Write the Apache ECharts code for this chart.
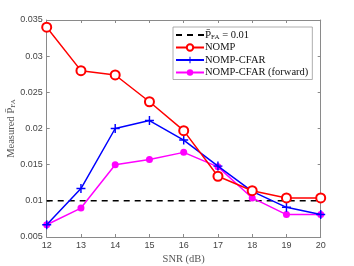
<!DOCTYPE html>
<html><head><meta charset="utf-8">
<script src="https://cdn.jsdelivr.net/npm/echarts@6/dist/echarts.min.js"></script>
<style>html,body{margin:0;padding:0;background:#fff}#c{width:354px;height:266px}</style>
</head><body><div id="c"></div>
<script>
const snr = [12, 13, 14, 15, 16, 17, 18, 19, 20];
const nomp = [0.0340, 0.0280, 0.0274, 0.0237, 0.0197, 0.0134, 0.0114, 0.0104, 0.0104];
const nompCfar = [0.0067, 0.0117, 0.0200, 0.0211, 0.0184, 0.0148, 0.0113, 0.0091, 0.0081];
const nompCfarFwd = [0.0067, 0.0090, 0.0150, 0.0157, 0.0167, 0.0147, 0.0104, 0.0081, 0.0081];
const threshold = 0.01;
const names = ['th', 'NOMP', 'NOMP-CFAR', 'NOMP-CFAR (forward)'];

const pair = (xs, ys) => xs.map((x, i) => [x, ys[i]]);
const serif = 'Liberation Serif';
const axisCol = '#8a8a8a';
const labCol = '#444';
const plus = 'path://M-0.8,-5H0.8V5H-0.8Z M-5,-0.8H5V0.8H-5Z';

const chart = echarts.init(document.getElementById('c'), null, {renderer: 'canvas'});
const xBase = {type: 'value', min: 12, max: 20, interval: 1,
  axisLine: {lineStyle: {color: axisCol, width: 1}},
  axisTick: {inside: true, length: 3, lineStyle: {color: axisCol}},
  splitLine: {show: false}};
const yBase = {type: 'value', min: 0.005, max: 0.035, interval: 0.005,
  axisLine: {show: true, lineStyle: {color: axisCol, width: 1}},
  axisTick: {show: true, inside: true, length: 3, lineStyle: {color: axisCol}},
  splitLine: {show: false}};
chart.setOption({
  animation: false,
  grid: {left: 46.7, right: 33.3, top: 20, bottom: 29, containLabel: false, outerBoundsMode: 'none'},
  xAxis: [
    Object.assign({}, xBase, {position: 'bottom',
      axisLabel: {color: labCol, fontSize: 9, fontFamily: 'Liberation Sans', margin: 4},
      name: 'SNR (dB)', nameLocation: 'middle', nameGap: 17, nameMoveOverlap: false,
      nameTextStyle: {fontFamily: serif, fontSize: 10.5, color: '#555'}}),
    Object.assign({}, xBase, {position: 'top', axisLabel: {show: false}})
  ],
  yAxis: [
    Object.assign({}, yBase, {position: 'left',
      axisLabel: {color: labCol, fontSize: 9, fontFamily: 'Liberation Sans', margin: 4,
        formatter: v => String(+v.toFixed(3))},
      name: 'Measured {p|P̄}{s|FA}', nameLocation: 'middle', nameGap: 30, nameMoveOverlap: false,
      nameTextStyle: {fontFamily: serif, fontSize: 10.5, color: '#555',
        rich: {p: {fontFamily: serif, fontSize: 11, color: '#555'},
               s: {fontFamily: serif, fontSize: 7, color: '#555', verticalAlign: 'bottom', padding: [4, 0, 0, 0]}}}}),
    Object.assign({}, yBase, {position: 'right', axisLabel: {show: false}})
  ],
  legend: {
    show: true, orient: 'vertical', left: 173, top: 27,
    data: [{name: 'th', itemStyle: {opacity: 0}}, 'NOMP', 'NOMP-CFAR', 'NOMP-CFAR (forward)'],
    itemWidth: 28, itemHeight: 8, itemGap: 0.5,
    padding: [2, 4, 1, 2],
    backgroundColor: '#fff', borderColor: '#999', borderWidth: 0.8,
    textStyle: {fontFamily: serif, fontSize: 10.5, lineHeight: 12, color: '#111', padding: [0, 0, 0, -4],
      rich: {p: {fontFamily: serif, fontSize: 11, lineHeight: 12, color: '#111'},
             s: {fontFamily: serif, fontSize: 7, lineHeight: 12, color: '#111', verticalAlign: 'bottom', padding: [3, 0, 0, 0]}}},
    formatter: n => n === 'th' ? '{p|P̄}{s|FA} = 0.01' : n
  },
  series: [
    {name: 'th', type: 'line', data: pair([12, 20], [threshold, threshold]), symbol: 'none',
      lineStyle: {color: '#000', width: 1.5, type: [6, 5]}, itemStyle: {color: '#000'}, z: 1},
    {name: 'NOMP', type: 'line', data: pair(snr, nomp), symbol: 'emptyCircle', symbolSize: 9,
      lineStyle: {color: '#ff0000', width: 1.5}, itemStyle: {color: '#ff0000', borderWidth: 1.5, borderColor: '#ff0000'}, z: 4},
    {name: 'NOMP-CFAR', type: 'line', data: pair(snr, nompCfar), symbol: plus, symbolSize: 9,
      lineStyle: {color: '#0000ff', width: 1.5}, itemStyle: {color: '#0000ff'}, z: 3},
    {name: 'NOMP-CFAR (forward)', type: 'line', data: pair(snr, nompCfarFwd), symbol: 'circle', symbolSize: 7,
      lineStyle: {color: '#ff00ff', width: 1.5}, itemStyle: {color: '#ff00ff'}, z: 2}
  ]
});
</script></body></html>
